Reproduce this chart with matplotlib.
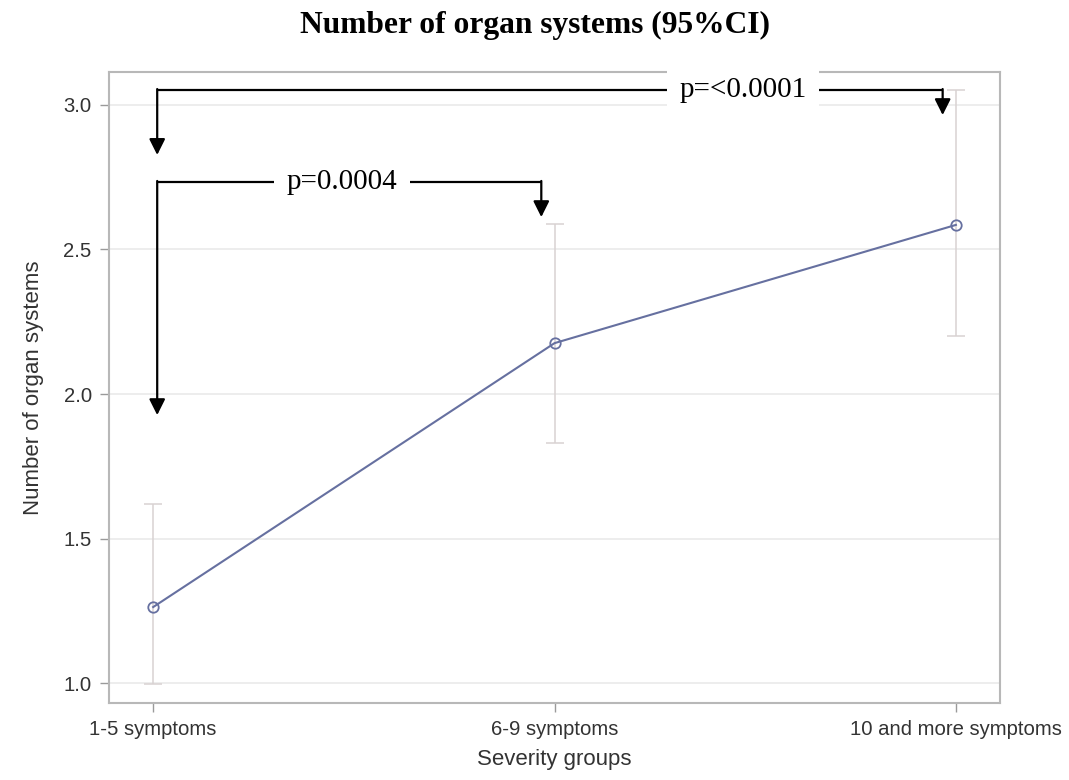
import numpy as np
import matplotlib
matplotlib.use("Agg")
import matplotlib.pyplot as plt

# severity groups and group means with 95% CI
groups = ["1-5 symptoms", "6-9 symptoms", "10 and more symptoms"]
means = [1.263, 2.176, 2.585]
ci_low = [0.997, 1.830, 2.200]
ci_high = [1.619, 2.588, 3.052]
y_ticks = [1.0, 1.5, 2.0, 2.5, 3.0]

# p-value brackets: (from group, to group, bar level, left tip, right tip, label)
brackets = [
    (0, 1, 2.734, 1.927, 2.612, "p=0.0004"),
    (0, 2, 3.052, 2.827, 2.965, "p=<0.0001"),
]
label_x = [0.47, 1.47]

plt.rcParams["font.family"] = ["Liberation Sans", "DejaVu Sans"]

fig = plt.figure(figsize=(10.69, 7.8), dpi=100)
ax = fig.add_axes([0.102, 0.0987, 0.8335, 0.809])

x = np.arange(len(groups))
means = np.asarray(means)
yerr = np.vstack([means - np.asarray(ci_low), np.asarray(ci_high) - means])

ax.errorbar(x, means, yerr=yerr, fmt="none", ecolor="#d9d2d2", elinewidth=1.1,
            capsize=6.5, capthick=1.1, zorder=2)
ax.plot(x, means, color="#6670a0", lw=1.5, marker="o", markersize=7.5,
        markerfacecolor="none", markeredgecolor="#6670a0", markeredgewidth=1.3, zorder=3)

ax.set_xlim(-0.11, 2.11)
ax.set_ylim(0.931, 3.114)
ax.set_xticks(x)
ax.set_xticklabels(groups)
ax.set_yticks(y_ticks)
ax.set_yticklabels([f"{v:.1f}" for v in y_ticks])
ax.grid(axis="y", color="#e8e8e8", lw=1.1)
ax.set_axisbelow(True)

for s in ax.spines.values():
    s.set_color("#b8b8b8")
    s.set_linewidth(1.5)
ax.tick_params(colors="#9a9a9a", labelcolor="#333333", labelsize=14.6, length=6.5, width=1)
ax.tick_params(axis="x", pad=6)
ax.tick_params(axis="y", pad=6)
ax.set_xlabel("Severity groups", fontsize=16, color="#333333", va="center")
ax.set_ylabel("Number of organ systems", fontsize=16, color="#333333", va="center")
ax.xaxis.set_label_coords(0.5, (703 - 759) / 631)
ax.yaxis.set_label_coords((33 - 109) / 891, 0.5)

# brackets with arrows
for (g0, g1, level, tip0, tip1, text), tx in zip(brackets, label_x):
    x0 = g0 + 0.01
    x1 = g1 - 0.033
    ax.plot([x0, x1], [level, level], color="black", lw=1.6, zorder=4,
            solid_capstyle="butt")
    for xx, tip in ((x0, tip0), (x1, tip1)):
        ax.annotate("", xy=(xx, tip), xytext=(xx, level + 0.003),
                    arrowprops=dict(arrowstyle="-|>", color="black", lw=1.6,
                                    mutation_scale=24, shrinkA=0, shrinkB=0),
                    zorder=5)
    ax.text(tx, level, text, ha="center", va="center", fontsize=21,
            family="Liberation Serif", zorder=6,
            bbox=dict(facecolor="white", edgecolor="none", pad=9))

fig.text(0.5, 1 - 33 / 780, "Number of organ systems (95%CI)", ha="center",
         va="baseline", fontsize=22.7, fontweight="bold", family="Liberation Serif")

fig.savefig("out.png", dpi=100)
